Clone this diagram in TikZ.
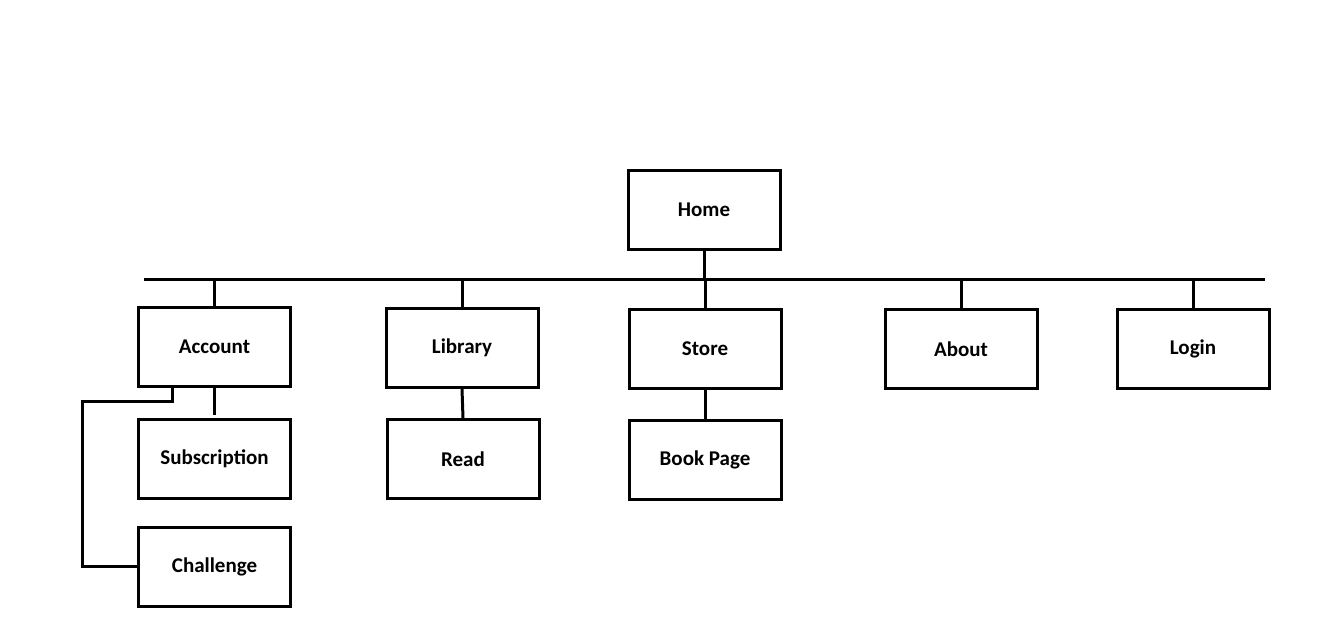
\documentclass[tikz,border=0pt]{standalone}
\usepackage{fontspec}
\setmainfont{Carlito}
\usetikzlibrary{calc,positioning}

\begin{document}
\begin{tikzpicture}[x=1pt,y=-1pt,
    page/.style={draw,line width=3pt,minimum width=152pt,minimum height=79pt,inner sep=0pt,font=\bfseries\fontsize{21}{25}\selectfont},
    link/.style={line width=3pt}]

      \useasboundingbox (0,0) rectangle (1343,634);

      % draw the pages
      \node[page] (home) at (704,210) {Home};
      \foreach \name/\txt/\x/\y in {account/Account/214.5/347, library/Library/462/348, store/Store/705/349, about/About/961/349, login/Login/1193/349}
      \node[page] (\name) at (\x,\y) {\txt};

      \node[page] (subscription) at (214.5,458.5) {Subscription};
      \node[page] (challenge) at (214.5,566.5) {Challenge};
      \node[page] (read) at (463,459) {Read};
      \node[page] (bookpage) at (705,460) {Book Page};

      % draw the bus
      \coordinate (busL) at (144,279);
      \coordinate (busR) at (1265,279);
      \draw[link] (busL) -- (busR);
      \draw[link] (home.south) -- (home.south |- busL);
      \foreach \name in {account,library,store,about,login}
      \draw[link] (\name.north) -- (\name.north |- busL);

      % draw the sub pages
      \draw[link] (account.south) -- ([yshift=3pt]subscription.north);
      \draw[link] ([xshift=-42pt]account.south) -- ++(0,13) -| ([xshift=-55pt]challenge.west) -- (challenge.west);
      \draw[link] (library.south) -- (read.north);
      \draw[link] (store.south) -- (bookpage.north);

\end{tikzpicture}
\end{document}
